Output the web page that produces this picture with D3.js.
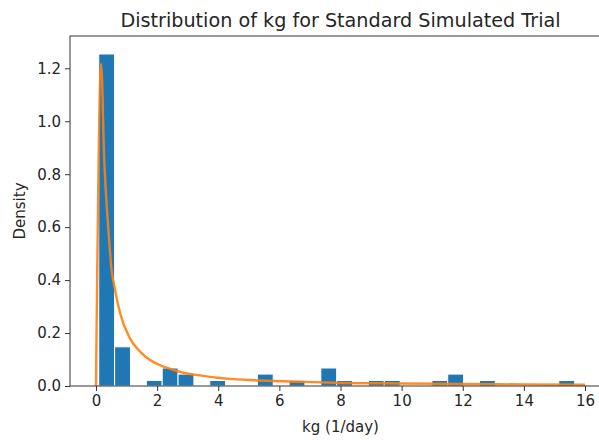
<!DOCTYPE html>
<html>
<head>
<meta charset="utf-8">
<script src="https://cdn.jsdelivr.net/npm/d3@7"></script>
<style>
  html, body { margin: 0; background: #fff; overflow: hidden; }
  svg { display: block; font-family: "DejaVu Sans", sans-serif; }
</style>
</head>
<body>
<div id="main"></div>
<script>
// histogram bins (30 bins) and their density heights
var binEdges = [0.09, 0.609, 1.128, 1.647, 2.166, 2.685, 3.204, 3.723, 4.242, 4.761,
                5.28, 5.799, 6.318, 6.837, 7.356, 7.875, 8.394, 8.913, 9.432, 9.951,
                10.47, 10.989, 11.508, 12.027, 12.546, 13.065, 13.584, 14.103, 14.622, 15.141, 15.66];
var binDensity = [1.254, 0.148, 0, 0.021, 0.068, 0.045, 0, 0.021, 0, 0,
                  0.045, 0, 0.021, 0, 0.068, 0.021, 0, 0.021, 0.021, 0,
                  0, 0.021, 0.045, 0, 0.021, 0, 0, 0, 0, 0.021];

// fitted pdf
var curveX = [0, 0.17, 0.27, 0.4, 0.51, 0.62, 0.79, 1.11, 1.44, 1.77, 2.31, 2.86, 3.4, 4.0, 4.5, 5.6, 6.7, 7.8, 10, 12, 14, 16];
var curveY = [0, 1.217, 0.854, 0.6, 0.44, 0.365, 0.275, 0.18, 0.13, 0.098, 0.069, 0.05, 0.04, 0.031, 0.026, 0.02, 0.016, 0.0125, 0.0095, 0.0075, 0.006, 0.005];

var xTicks = [0, 2, 4, 6, 8, 10, 12, 14, 16];
var yTicks = [0.0, 0.2, 0.4, 0.6, 0.8, 1.0, 1.2];

var W = 599, H = 440;
var margins = { top: 36, bottom: 54, left: 70, right: -12 };
var width = W - margins.left - margins.right, height = H - margins.top - margins.bottom;

var x = d3.scaleLinear().domain([-0.85, 16.85]).range([0, width]);
var y = d3.scaleLinear().domain([0, 1.322]).range([height, 0]);

var svg = d3.select('#main').append('svg')
    .attr('width', W).attr('height', H);

svg.append('defs').append('clipPath').attr('id', 'plotClip')
    .append('rect').attr('width', width).attr('height', height);

var chart = svg.append('g')
    .attr('transform', 'translate(' + margins.left + ',' + margins.top + ')');

var bins = binDensity.map(function(d, i) {
    return { x0: binEdges[i], x1: binEdges[i + 1], v: d };
}).filter(function(b) { return b.v > 0; });

var plot = chart.append('g').attr('clip-path', 'url(#plotClip)');

plot.selectAll('.bar').data(bins)
    .enter().append('rect')
    .attr('class', 'bar')
    .attr('x', function(d) { return x(d.x0); })
    .attr('width', function(d) { return x(d.x1) - x(d.x0); })
    .attr('y', function(d) { return y(d.v); })
    .attr('height', function(d) { return y(0) - y(d.v); })
    .style('fill', '#1f77b4')
    .style('stroke', '#fff')
    .style('stroke-width', 1);

var line = d3.line()
    .x(function(d) { return x(d[0]); })
    .y(function(d) { return y(d[1]); })
    .curve(d3.curveMonotoneX);

plot.append('path')
    .datum(d3.zip(curveX, curveY))
    .attr('d', line)
    .style('fill', 'none')
    .style('stroke', '#ff7f0e')
    .style('stroke-opacity', 0.9)
    .style('stroke-width', 2.4);

var xAxis = d3.axisBottom(x).tickValues(xTicks).tickSize(5).tickSizeOuter(0).tickPadding(4)
    .tickFormat(d3.format('d'));
var yAxis = d3.axisLeft(y).tickValues(yTicks).tickSize(5).tickSizeOuter(0).tickPadding(4)
    .tickFormat(d3.format('.1f'));

var gx = chart.append('g').attr('transform', 'translate(0,' + height + ')').call(xAxis);
var gy = chart.append('g').call(yAxis);
[gx, gy].forEach(function(g) {
    g.select('.domain').remove();
    g.selectAll('text').style('font-size', '15px').style('fill', '#262626')
        .style('font-family', '"DejaVu Sans", sans-serif');
    g.selectAll('line').style('stroke', '#333');
});

// spines
chart.append('rect')
    .attr('width', width).attr('height', height)
    .style('fill', 'none').style('stroke', '#333').style('stroke-width', 1);

svg.append('text')
    .attr('x', margins.left + width / 2).attr('y', 27)
    .style('text-anchor', 'middle')
    .style('font-size', '19.2px')
    .style('fill', '#262626')
    .text('Distribution of kg for Standard Simulated Trial');

svg.append('text')
    .attr('x', margins.left + width / 2).attr('y', 432)
    .style('text-anchor', 'middle')
    .style('font-size', '15px')
    .style('fill', '#262626')
    .text('kg (1/day)');

svg.append('text')
    .attr('transform', 'rotate(-90)')
    .attr('x', -(margins.top + height / 2)).attr('y', 25)
    .style('text-anchor', 'middle')
    .style('font-size', '15px')
    .style('fill', '#262626')
    .text('Density');
</script>
</body>
</html>
